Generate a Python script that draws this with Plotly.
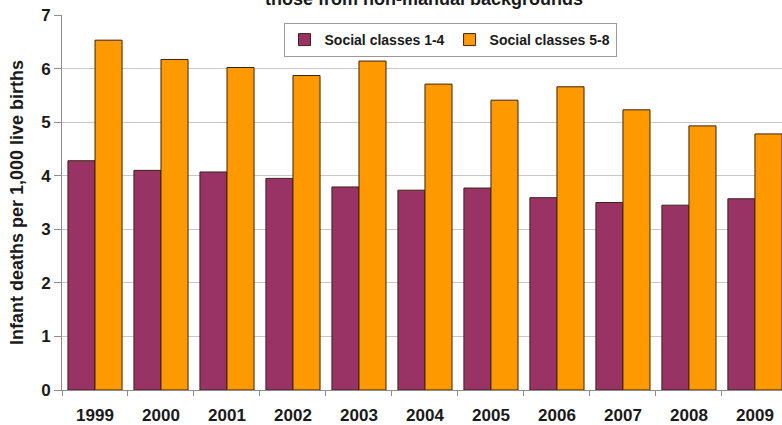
import plotly.graph_objects as go

# Infant mortality by social class of father, England & Wales
years = ["1999", "2000", "2001", "2002", "2003", "2004", "2005", "2006", "2007", "2008", "2009"]
classes_1_4 = [4.28, 4.10, 4.07, 3.95, 3.79, 3.73, 3.77, 3.59, 3.50, 3.45, 3.57]
classes_5_8 = [6.53, 6.17, 6.02, 5.87, 6.14, 5.71, 5.41, 5.66, 5.23, 4.93, 4.78]
y_ticks = [0, 1, 2, 3, 4, 5, 6, 7]

W, H = 782, 425
M_L, M_T, M_B, M_R = 62, 15, 35, 0
plot_w = W - M_L - M_R
plot_h = H - M_T - M_B

FONT = "Liberation Sans, Arial, sans-serif"
INK = "#1a1a1a"
OUTLINE = "#3b2314"
AXIS = "#8c8c8c"

fig = go.Figure()
fig.add_trace(go.Bar(
    x=years, y=classes_1_4, name="Social classes 1-4",
    marker=dict(color="#993366", line=dict(color=OUTLINE, width=1)),
))
fig.add_trace(go.Bar(
    x=years, y=classes_5_8, name="Social classes 5-8",
    marker=dict(color="#FF9900", line=dict(color=OUTLINE, width=1)),
))

# Title line, partly above the top edge of the page
fig.add_annotation(
    text="those from non-manual backgrounds",
    xref="paper", yref="paper", x=(424 - M_L) / plot_w,
    y=1 + M_T / plot_h, yanchor="bottom", xanchor="center",
    showarrow=False, yshift=-11,
    font=dict(family=FONT, size=18, color=INK, weight="bold"),
)

fig.update_layout(
    width=W, height=H,
    margin=dict(l=M_L, r=M_R, t=M_T, b=M_B, pad=0, autoexpand=False),
    paper_bgcolor="white", plot_bgcolor="white",
    barmode="group", bargap=0.18, bargroupgap=0,
    font=dict(family=FONT, color=INK, weight="bold"),
    showlegend=True,
    legend=dict(
        orientation="h", x=(450 - M_L) / plot_w, y=1 - (23 - M_T) / plot_h,
        xanchor="center", yanchor="top",
        bgcolor="white", bordercolor="#9a9a9a", borderwidth=1,
        font=dict(family=FONT, size=14, color=INK, weight="bold"),
        itemwidth=30, tracegroupgap=0, traceorder="normal",
    ),
    xaxis=dict(
        type="category", range=[-0.5, 10.41], automargin=False,
        showline=True, linecolor=AXIS, linewidth=1,
        ticks="outside", tickson="boundaries", ticklen=5, tickcolor=AXIS,
        ticklabelstandoff=10,
        tickfont=dict(family=FONT, size=17, color=INK, weight="bold"),
        showgrid=False, fixedrange=True,
    ),
    yaxis=dict(
        range=[0, 7], tickvals=y_ticks, automargin=False,
        showline=True, linecolor=AXIS, linewidth=1,
        ticks="outside", ticklen=7, tickcolor=AXIS,
        showgrid=True, gridcolor="#c8c8c8", gridwidth=1,
        zeroline=False,
        tickfont=dict(family=FONT, size=17, color=INK, weight="bold"),
        title=dict(text="Infant deaths per 1,000 live births", standoff=12,
                   font=dict(family=FONT, size=18, color=INK, weight="bold")),
    ),
)

fig.write_html("out.html", config={"displayModeBar": False})
